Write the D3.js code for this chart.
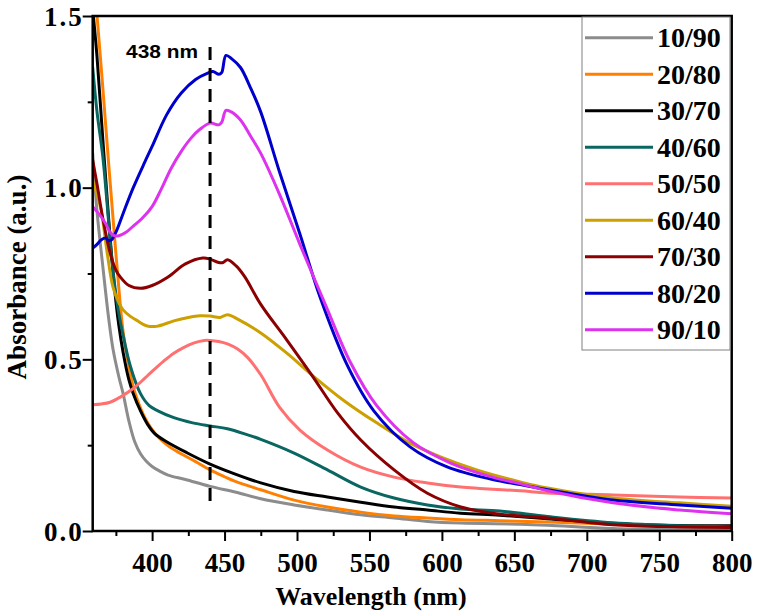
<!DOCTYPE html>
<html>
<head>
<meta charset="utf-8">
<script src="https://cdn.jsdelivr.net/npm/d3@7"></script>
<style>
  html, body { margin: 0; padding: 0; background: #ffffff; }
  svg { display: block; }
  .serif { font-family: "Liberation Serif", Tinos, "Times New Roman", Times, "DejaVu Serif", serif; font-weight: bold; }
  .sans { font-family: "Liberation Sans", Arimo, Arial, Helvetica, sans-serif; font-weight: bold; }
</style>
</head>
<body>
<svg id="chart" width="762" height="616"></svg>
<script>
// ---------------- data ----------------
const categories = ["10/90", "20/80", "30/70", "40/60", "50/50", "60/40", "70/30", "80/20", "90/10"];

const s10_90 = [[359,1.10],[362,0.93],[366,0.77],[370,0.62],[373,0.53],[377,0.45],[380,0.40],[384,0.32],[388,0.26],[392,0.225],[396,0.203],[400,0.188],[405,0.175],[411,0.163],[423,0.15],[440,0.13],[458,0.113],[475,0.094],[498,0.076],[521,0.061],[544,0.047],[567,0.038],[590,0.028],[613,0.023],[654,0.02],[673,0.017],[718,0.007],[764,0.004],[800,0.003]];
const s20_80 = [[359,1.66],[362,1.50],[366,1.29],[370,1.07],[374,0.86],[378,0.66],[380,0.58],[383,0.50],[387,0.42],[390,0.38],[395,0.33],[400,0.295],[405,0.27],[412,0.245],[420,0.225],[430,0.202],[440,0.178],[450,0.158],[457,0.145],[475,0.12],[498,0.09],[521,0.07],[544,0.055],[567,0.044],[590,0.038],[613,0.033],[640,0.03],[673,0.026],[718,0.02],[764,0.015],[800,0.012]];
const s30_70 = [[359,1.52],[362,1.38],[366,1.14],[370,0.91],[374,0.71],[377,0.60],[380,0.52],[384,0.44],[387,0.40],[392,0.35],[397,0.31],[402,0.283],[410,0.26],[424,0.228],[440,0.195],[456,0.168],[475,0.14],[498,0.115],[521,0.099],[544,0.084],[567,0.07],[590,0.061],[613,0.052],[640,0.046],[673,0.036],[718,0.022],[764,0.016],[800,0.015]];
const s40_60 = [[359,1.35],[362,1.22],[366,1.09],[369,0.95],[372,0.80],[376,0.66],[380,0.57],[385,0.48],[392,0.40],[398,0.365],[404,0.35],[415,0.33],[428,0.315],[440,0.306],[452,0.298],[466,0.28],[475,0.267],[498,0.227],[521,0.178],[544,0.128],[567,0.096],[590,0.076],[613,0.064],[640,0.058],[673,0.042],[718,0.024],[764,0.015],[800,0.012]];
const s50_50 = [[359,0.368],[365,0.37],[371,0.375],[378,0.39],[387,0.415],[395,0.445],[400,0.465],[408,0.495],[415,0.518],[422,0.535],[429,0.548],[436,0.555],[440,0.555],[446,0.552],[452,0.545],[459,0.53],[466,0.505],[475,0.455],[488,0.36],[502,0.294],[521,0.236],[544,0.186],[567,0.157],[590,0.14],[613,0.128],[626,0.124],[654,0.117],[673,0.111],[718,0.105],[764,0.099],[800,0.096]];
const s60_40 = [[359,1.02],[362,0.98],[365,0.93],[369,0.81],[373,0.71],[377,0.665],[380,0.644],[385,0.625],[390,0.612],[396,0.598],[403,0.596],[415,0.612],[425,0.622],[433,0.627],[440,0.626],[447,0.622],[452,0.63],[460,0.615],[475,0.577],[493,0.518],[511,0.452],[532,0.381],[555,0.315],[578,0.256],[599,0.216],[624,0.178],[654,0.143],[673,0.125],[718,0.096],[764,0.082],[800,0.072]];
const s70_30 = [[359,1.08],[362,1.01],[366,0.91],[371,0.81],[375,0.76],[378,0.74],[384,0.715],[392,0.707],[400,0.715],[411,0.74],[423,0.778],[435,0.795],[440,0.792],[446,0.782],[449,0.782],[452,0.79],[458,0.772],[464,0.74],[475,0.66],[493,0.556],[511,0.449],[528,0.344],[544,0.265],[567,0.178],[590,0.11],[613,0.07],[635,0.052],[654,0.044],[673,0.038],[718,0.018],[764,0.012],[800,0.01]];
const s80_20 = [[359,0.824],[362,0.835],[365,0.848],[368,0.853],[370,0.846],[372,0.848],[376,0.88],[380,0.925],[387,1.0],[395,1.075],[400,1.12],[410,1.212],[420,1.275],[430,1.315],[438,1.333],[442,1.338],[446,1.33],[448,1.335],[451,1.385],[455,1.375],[461,1.35],[468,1.29],[475,1.22],[488,1.045],[502,0.865],[516,0.68],[535,0.48],[553,0.35],[578,0.245],[604,0.186],[635,0.15],[654,0.135],[673,0.12],[718,0.09],[764,0.076],[800,0.066]];
const s90_10 = [[359,0.944],[363,0.925],[368,0.895],[371,0.87],[374,0.86],[377,0.86],[382,0.87],[387,0.888],[393,0.91],[400,0.945],[406,0.993],[413,1.055],[420,1.105],[427,1.145],[433,1.17],[440,1.188],[446,1.183],[448,1.19],[451,1.225],[455,1.22],[461,1.197],[468,1.15],[475,1.10],[488,0.98],[502,0.835],[520,0.655],[537,0.49],[555,0.365],[580,0.258],[606,0.198],[635,0.157],[654,0.138],[673,0.117],[718,0.082],[764,0.061],[800,0.05]];

const seriesValues = [s10_90, s20_80, s30_70, s40_60, s50_50, s60_40, s70_30, s80_20, s90_10];
const seriesColors = ["#8c8c8c", "#ff8000", "#000000", "#0a6660", "#ff7070", "#cca000", "#8b0000", "#0000cd", "#dd33ee"];

const xDomain = [359, 800];
const yDomain = [0, 1.5];
const xMajorTicks = [400, 450, 500, 550, 600, 650, 700, 750, 800];
const xMinorTicks = [375, 425, 475, 525, 575, 625, 675, 725, 775];
const yMajorTicks = [0, 0.5, 1.0, 1.5];
const yMinorTicks = [0.25, 0.75, 1.25];
const markerNm = [440];
const markerRange = [0.08, 1.41];
const markerLabel = "438 nm";
const xTitle = "Wavelength (nm)";
const yTitle = "Absorbance (a.u.)";

// ---------------- layout ----------------
const L = 92.7, R = 731.7, T = 16, B = 531;

const svg = d3.select("#chart");
svg.append("rect").attr("width", 762).attr("height", 616).attr("fill", "#ffffff");

const x = d3.scaleLinear().domain(xDomain).range([L, R]);
const y = d3.scaleLinear().domain(yDomain).range([B, T]);

svg.append("defs").append("clipPath").attr("id", "plotClip")
  .append("rect").attr("x", L).attr("y", T).attr("width", R - L).attr("height", B - T);

// curves
const line = d3.line().x(d => x(d[0])).y(d => y(d[1])).curve(d3.curveCatmullRom.alpha(0.5));
const gCurves = svg.append("g").attr("clip-path", "url(#plotClip)");
seriesValues.forEach((s, i) => {
  gCurves.append("path").datum(s)
    .attr("d", line)
    .attr("fill", "none")
    .attr("stroke", seriesColors[i])
    .attr("stroke-width", 3)
    .attr("stroke-linejoin", "round")
    .attr("stroke-linecap", "round");
});

// dashed marker
svg.selectAll("line.marker").data(markerNm).enter().append("line")
  .attr("class", "marker")
  .attr("x1", d => x(d)).attr("x2", d => x(d))
  .attr("y1", y(markerRange[1])).attr("y2", y(markerRange[0]))
  .attr("stroke", "#000").attr("stroke-width", 3)
  .attr("stroke-dasharray", "13,8");

svg.append("text").attr("class", "sans")
  .attr("x", x(markerNm[0]) - 84).attr("y", 58)
  .attr("font-size", 18)
  .attr("textLength", 72).attr("lengthAdjust", "spacingAndGlyphs")
  .text(markerLabel);

// axes
const xAxis = svg.append("g").attr("transform", `translate(0,${B})`)
  .call(d3.axisBottom(x).tickValues(xMajorTicks).tickSize(10).tickSizeOuter(0).tickFormat(d3.format("d")));
xAxis.attr("font-family", null).attr("font-size", null);
xAxis.select(".domain").remove();
xAxis.selectAll(".tick line").attr("stroke-width", 2);
xAxis.selectAll(".tick text")
  .attr("class", "serif")
  .attr("y", 41).attr("dy", 0)
  .style("font-size", "27px").attr("fill", "#000");

const xAxisMinor = svg.append("g").attr("transform", `translate(0,${B})`)
  .call(d3.axisBottom(x).tickValues(xMinorTicks).tickSize(5).tickSizeOuter(0).tickFormat(""));
xAxisMinor.select(".domain").remove();
xAxisMinor.selectAll(".tick line").attr("stroke-width", 2);

const yAxis = svg.append("g").attr("transform", `translate(${L},0)`)
  .call(d3.axisLeft(y).tickValues(yMajorTicks).tickSize(10).tickSizeOuter(0).tickFormat(d3.format(".1f")));
yAxis.attr("font-family", null).attr("font-size", null);
yAxis.select(".domain").remove();
yAxis.selectAll(".tick line").attr("stroke-width", 2);
yAxis.selectAll(".tick text")
  .attr("class", "serif")
  .attr("x", -9).attr("dy", "0.34em")
  .style("letter-spacing", "2px")
  .style("font-size", "27px").attr("fill", "#000");

const yAxisMinor = svg.append("g").attr("transform", `translate(${L},0)`)
  .call(d3.axisLeft(y).tickValues(yMinorTicks).tickSize(5).tickSizeOuter(0).tickFormat(""));
yAxisMinor.select(".domain").remove();
yAxisMinor.selectAll(".tick line").attr("stroke-width", 2);

// frame
svg.append("rect")
  .attr("x", L).attr("y", T).attr("width", R - L).attr("height", B - T)
  .attr("fill", "none").attr("stroke", "#000").attr("stroke-width", 2.5);

// titles
svg.append("text").attr("class", "serif")
  .attr("x", 371).attr("y", 605).attr("text-anchor", "middle")
  .style("font-size", "26px")
  .text(xTitle);
svg.append("text").attr("class", "serif")
  .attr("transform", "translate(25.5,277) rotate(-90)").attr("text-anchor", "middle")
  .style("font-size", "27px")
  .text(yTitle);

// legend
const lg = svg.append("g");
lg.append("rect")
  .attr("x", 582).attr("y", 17).attr("width", 148).attr("height", 333)
  .attr("fill", "#ffffff").attr("stroke", "#808080").attr("stroke-width", 1);
const rowY = i => 37.7 + i * 36.5;
categories.forEach((c, i) => {
  lg.append("line")
    .attr("x1", 585).attr("x2", 653)
    .attr("y1", rowY(i)).attr("y2", rowY(i))
    .attr("stroke", seriesColors[i]).attr("stroke-width", 3);
  lg.append("text").attr("class", "serif")
    .attr("x", 657).attr("y", rowY(i) + 9.5)
    .style("font-size", "28px")
    .text(c);
});
</script>
</body>
</html>
